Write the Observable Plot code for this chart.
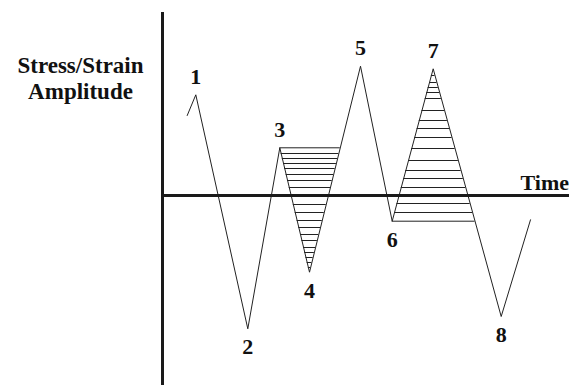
<!DOCTYPE html>
<html>
<head>
<meta charset="utf-8">
<script src="https://cdn.jsdelivr.net/npm/d3@7"></script>
<script src="https://cdn.jsdelivr.net/npm/@observablehq/plot@0.6"></script>
<style>
  html, body { margin: 0; padding: 0; background: #fff; }
  #chart svg { display: block; }
  #chart text { font-family: "Liberation Serif", "Times New Roman", serif; }
</style>
</head>
<body>
<div id="chart"></div>
<script>
// Load history: time and stress/strain amplitude at each reversal
const time      = [2.47, 3.33, 8.53, 11.73, 14.7, 19.8, 22.97, 27.07, 33.87, 36.8];
const amplitude = [8.0, 10.07, -13.33, 4.77, -7.67, 12.93, -2.57, 12.67, -12.1, -2.43];
const reversal  = ["", "1", "2", "3", "4", "5", "6", "7", "8", ""];

// Hatched closed cycles: 3–4–3' and 6–7–6'
const cycleA = {from: 3, levels: [4.77, 4.2, 3.7, 3.2, 2.7, 2.1, 1.5, 0.8, 0, -0.9, -1.7, -2.5, -3.2, -3.9, -4.5, -5.2, -5.7, -6.2, -6.7, -7.2]};
const cycleB = {from: 6, levels: [12.0, 11.3, 10.8, 10.3, 9.7, 8.5, 7.5, 6.7, 5.8, 4.7, 3.5, 2.5, 1.7, 0.8, 0, -0.8, -1.7, -2.57]};

const points = time.map((t, i) => ({t, a: amplitude[i], label: reversal[i]}));

// time at which segment i -> i+1 crosses a given amplitude
function crossing(i, level) {
  const p = points[i], q = points[i + 1];
  return p.t + (level - p.a) / (q.a - p.a) * (q.t - p.t);
}

// each hatch line spans from one branch of the cycle to the next branch
function hatch(cycle) {
  const k = cycle.from;
  return cycle.levels.map(level => ({
    a: level,
    t1: crossing(k, level),
    t2: crossing(k + 1, level)
  }));
}

const hatches = [...hatch(cycleA), ...hatch(cycleB)];
const peaks = points.filter(d => d.label && d.a > 0);
const troughs = points.filter(d => d.label && d.a < 0);

const serif = "Liberation Serif";

const chart = Plot.plot({
  width: 569,
  height: 385,
  margin: 0,
  x: {domain: [-16.2, 40.7], axis: null},
  y: {domain: [-19, 19.5], axis: null},
  style: {background: "#fff"},
  marks: [
    Plot.ruleY(hatches, {y: "a", x1: "t1", x2: "t2", stroke: "#222", strokeWidth: 1}),
    Plot.line(points, {x: "t", y: "a", stroke: "#222", strokeWidth: 1}),
    // axes
    Plot.ruleX([0], {y1: -19, y2: 18.3, stroke: "#1a1a1a", strokeWidth: 3}),
    Plot.ruleY([0], {x1: 0, x2: 40.7, stroke: "#1a1a1a", strokeWidth: 3}),
    // reversal numbers
    Plot.text(peaks, {x: "t", y: "a", text: "label", lineAnchor: "bottom", dy: -11,
      fontFamily: serif, fontSize: 22, fontWeight: "bold", fill: "#111"}),
    Plot.text(troughs, {x: "t", y: "a", text: "label", lineAnchor: "top", dy: 10,
      fontFamily: serif, fontSize: 22, fontWeight: "bold", fill: "#111"}),
    // axis titles
    Plot.text(["Stress/Strain\nAmplitude"], {x: -8.2, y: 9.7, lineAnchor: "bottom", lineHeight: 1.13,
      textAnchor: "middle", fontFamily: serif, fontSize: 23, fontWeight: "bold", fill: "#111"}),
    Plot.text(["Time"], {x: 35.8, y: 0.6, lineAnchor: "bottom", textAnchor: "start",
      fontFamily: serif, fontSize: 22, fontWeight: "bold", fill: "#111"})
  ]
});

document.getElementById("chart").append(chart);
</script>
</body>
</html>
